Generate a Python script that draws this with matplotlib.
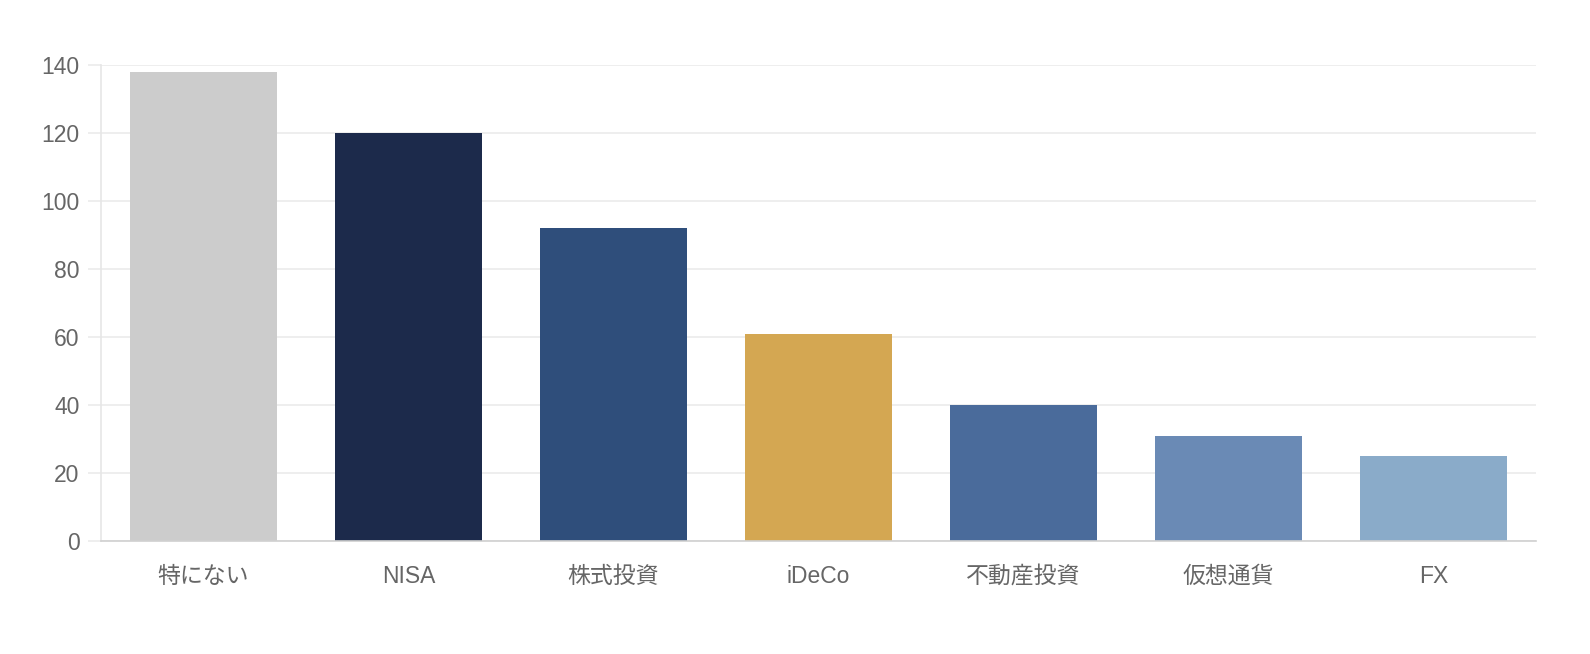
import matplotlib
matplotlib.use("Agg")
import matplotlib.pyplot as plt

plt.rcParams['font.family'] = ['Liberation Sans', 'Noto Sans CJK JP']

categories = ["特にない", "NISA", "株式投資", "iDeCo", "不動産投資", "仮想通貨", "FX"]
values = [138, 120, 92, 61, 40, 31, 25]
colors = ["#cccccc", "#1c2a4b", "#2f4e7b", "#d4a752", "#4a6b9b", "#6a8ab5", "#8aabc9"]
yticks = [0, 20, 40, 60, 80, 100, 120, 140]

W, H = 1590, 654
fig = plt.figure(figsize=(W / 100, H / 100), dpi=100)
ax = fig.add_axes([101 / W, (H - 541) / H, (1536 - 101) / W, (541 - 65) / H])

x = range(len(categories))
ax.bar(x, values, width=0.72, color=colors, linewidth=0, zorder=3)
ax.set_xlim(-0.5, len(categories) - 0.5)
ax.set_ylim(0, 140)
ax.set_yticks(yticks)
ax.set_xticks(list(x))
ax.set_xticklabels(categories)

ax.grid(axis='y', color='#ebebeb', linewidth=1.2, zorder=0)
ax.grid(axis='x', visible=False)
for s in ['top', 'right']:
    ax.spines[s].set_visible(False)
ax.spines['left'].set_color('#e6e6e6')
ax.spines['left'].set_linewidth(1.2)
ax.spines['bottom'].set_color('#d0d0d0')
ax.spines['bottom'].set_linewidth(1.2)
ax.spines['bottom'].set_zorder(4)

ax.tick_params(axis='y', length=9.5, width=1.2, color='#ebebeb', pad=6,
               labelsize=16.5, labelcolor='#666666')
ax.tick_params(axis='x', length=0, pad=17, labelsize=16.5, labelcolor='#666666')

fig.savefig("out.png", dpi=100, facecolor='white')
